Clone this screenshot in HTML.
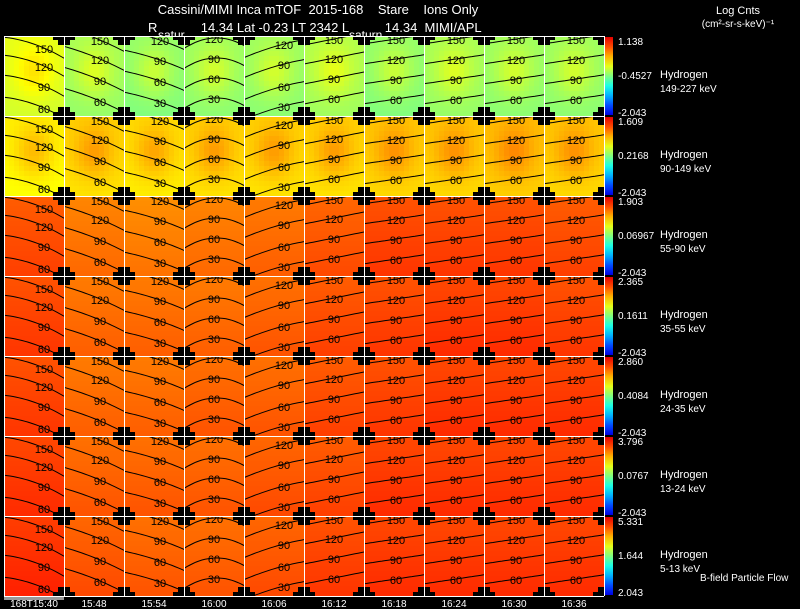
<!DOCTYPE html>
<html><head><meta charset="utf-8">
<style>
html,body{margin:0;padding:0;background:#000;}
svg{display:block;font-family:"Liberation Sans",sans-serif;}
</style></head>
<body>
<svg id="chart" width="800" height="609" viewBox="0 0 800 609" xmlns="http://www.w3.org/2000/svg">
<rect x="0" y="0" width="800" height="609" fill="#000"/>
<text x="318" y="14" fill="#fff" font-size="13" text-anchor="middle" xml:space="preserve">Cassini/MIMI Inca mTOF  2015-168    Stare    Ions Only</text>
<text x="148" y="32" fill="#fff" font-size="13" xml:space="preserve">R            14.34 Lat -0.23 LT 2342 L          14.34  MIMI/APL</text>
<text x="158" y="39" fill="#fff" font-size="12">satur</text>
<text x="349" y="39" fill="#fff" font-size="12">saturn</text>
<text x="738" y="14" fill="#fff" font-size="11" text-anchor="middle">Log Cnts</text>
<text x="738" y="27" fill="#fff" font-size="10" text-anchor="middle">(cm²-sr-s-keV)⁻¹</text>
<text x="700" y="581" fill="#fff" font-size="10">B-field Particle Flow</text>
<rect x="4" y="596" width="60" height="4" fill="#999"/>
<g id="panels"></g>
<g id="overlay"></g>
</svg>
<script>
// ---- data ----
const timeLabels = ["168T15:40","15:48","15:54","16:00","16:06","16:12","16:18","16:24","16:30","16:36"];
const species = ["Hydrogen","Hydrogen","Hydrogen","Hydrogen","Hydrogen","Hydrogen","Hydrogen"];
const energyLabels = ["149-227 keV","90-149 keV","55-90 keV","35-55 keV","24-35 keV","13-24 keV","5-13 keV"];
const cbarMax = ["1.138","1.609","1.903","2.365","2.860","3.796","5.331"];
const cbarMid = ["-0.4527","0.2168","0.06967","0.1611","0.4084","0.0767","1.644"];
const cbarMin = ["-2.043","-2.043","-2.043","-2.043","-2.043","-2.043","2.043"];
// normalized colour level (0..1 on jet scale) per panel, row = energy band, col = time
const row0Levels = [0.59,0.53,0.51,0.52,0.52,0.54,0.51,0.53,0.52,0.52];
const row1Levels = [0.63,0.66,0.65,0.66,0.66,0.66,0.67,0.67,0.68,0.67];
const row2Levels = [0.80,0.76,0.75,0.76,0.77,0.79,0.81,0.81,0.81,0.80];
const row3Levels = [0.81,0.77,0.77,0.77,0.78,0.80,0.81,0.82,0.82,0.81];
const row4Levels = [0.81,0.77,0.77,0.78,0.78,0.80,0.81,0.82,0.82,0.82];
const row5Levels = [0.82,0.78,0.78,0.78,0.79,0.80,0.82,0.82,0.82,0.82];
const row6Levels = [0.83,0.79,0.78,0.78,0.79,0.81,0.82,0.82,0.82,0.82];
const panelLevels = [row0Levels,row1Levels,row2Levels,row3Levels,row4Levels,row5Levels,row6Levels];
// pitch-angle contour labels per column
const contourLabels = [
 [150,120,90,60],[150,120,90,60],[120,90,60,30],[120,90,60,30],[120,90,60,30],
 [150,120,90,60],[150,120,90,60],[150,120,90,60],[150,120,90,60],[150,120,90,60]];

// ---- layout ----
const X0=4, PW=60, Y0=36, PH=80, CBX=605, CBW=8;
const NS="http://www.w3.org/2000/svg";
const panelsG=document.getElementById('panels');
const overlay=document.getElementById('overlay');
const xPanel=c=>X0+c*PW, yPanel=r=>Y0+r*PH;
function clamp(v){return Math.max(0,Math.min(1,v));}
function jet(v){
  const r=clamp(1.5-Math.abs(4*v-3)), g=clamp(1.5-Math.abs(4*v-2)), b=clamp(1.5-Math.abs(4*v-1));
  return `rgb(${Math.round(r*255)},${Math.round(g*255)},${Math.round(b*255)})`;
}
function mk(tag,attrs,parent){const e=document.createElementNS(NS,tag);for(const k in attrs)e.setAttribute(k,attrs[k]);parent.appendChild(e);return e;}
// contour geometry per column (style, not data)
const cSlope=[0.35,0.4,0.32,-0.05,-0.3,-0.2,-0.15,-0.15,-0.15,-0.15];
const cCurve=[0.004,0.002,0.002,0.01,0.002,0,0,0,0,0];
const cOff=[[12,30,50,72],[4,23,44,65],[4,24,45,66],[2,22,42,62],[8,28,50,70],[3,22,42,62],[3,23,43,63],[3,23,43,63],[3,23,43,63],[3,23,43,63]];
const cLabX=[40,36,36,30,40,30,32,32,32,32];

const defs=mk('defs',{},panelsG);
const CELL=5;
for(let r=0;r<7;r++){
  const bump = r<2 ? 0.06 : 0.0;
  for(let c=0;c<10;c++){
    const px=xPanel(c), py=yPanel(r), base=panelLevels[r][c];
    const g=mk('g',{},panelsG);
    
    
    for(let j=0;j<PH/CELL;j++){
      for(let i=0;i<PW/CELL;i++){
        const dx=(i+0.5)/(PW/CELL)-0.5, dy=(j+0.5)/(PH/CELL)-0.45;
        const v=base+bump*Math.exp(-(dx*dx+dy*dy)*10)+(r<2?-0.02:0.03)*(j/(PH/CELL)-0.5);
        const cell=mk('rect',{x:px+i*CELL,y:py+j*CELL,width:CELL,height:CELL,fill:jet(v)},g);
        
        
      }
    }
    const cp=mk('clipPath',{id:'cp'+r+'_'+c},defs);
    mk('rect',{x:px,y:py,width:PW,height:PH},cp);
    const cg=mk('g',{'clip-path':'url(#cp'+r+'_'+c+')'},g);
    for(let k=0;k<4;k++){
      let d='';
      for(let t=0;t<=PW;t+=3){
        const xx=t-PW/2;
        const yy=py+cOff[c][k]+cSlope[c]*(t-cLabX[c])+cCurve[c]*(xx*xx-(cLabX[c]-PW/2)*(cLabX[c]-PW/2));
        d+=(t?'L':'M')+(px+t)+','+yy.toFixed(1);
      }
      const ln=mk('path',{d:d,fill:'none',stroke:'#000','stroke-width':1},cg);
      
      
      const tl=mk('text',{x:px+cLabX[c],y:py+cOff[c][k]+5,'font-size':11,fill:'#000','text-anchor':'middle'},cg);
      tl.textContent=contourLabels[c][k];
      
      
    }
  }
  // colour bar
  const cy=yPanel(r)+1;
  const gid='cbg'+r;
  const lg=mk('linearGradient',{id:gid,x1:0,y1:1,x2:0,y2:0},defs);
  for(let s=0;s<=8;s++) mk('stop',{offset:s/8,'stop-color':jet(0.1+s*0.8/8)},lg);
  const cb=mk('rect',{x:CBX,y:cy,width:CBW,height:PH-2,fill:'url(#'+gid+')'},overlay);
  
  
  const tx=[[cbarMax[r],cy+8],[cbarMid[r],cy+42],[cbarMin[r],cy+79]];
  tx.forEach((a,ii)=>{
    const t=mk('text',{x:618,y:a[1],fill:'#fff','font-size':10},overlay);
    t.textContent=a[0];
    
    
  });
  const s1=mk('text',{x:660,y:cy+41,fill:'#fff','font-size':11},overlay);
  s1.textContent=species[r];
  
  
  const s2=mk('text',{x:660,y:cy+55,fill:'#fff','font-size':10},overlay);
  s2.textContent=energyLabels[r];
  
  
}
// black notch crosses at panel corners (columns 1..9)
for(let r=0;r<=7;r++){
  for(let c=1;c<=10;c++){
    const cx=xPanel(c), cy=yPanel(r);
    const g=mk('g',{fill:'#000'},overlay);
    
    
    const left = cx-11, w = (c===10?11:22);
    const top = Math.max(Y0,cy-9), h = Math.min(Y0+7*PH,cy+9)-top;
    mk('rect',{x:left,y:Math.max(Y0,cy-4),width:w,height:Math.min(Y0+7*PH,cy+4)-Math.max(Y0,cy-4)},g);
    mk('rect',{x:cx-6,y:top,width:(c===10?6:12),height:h},g);
  }
}
// white grid lines over notches
for(let c=0;c<=10;c++){mk('line',{x1:xPanel(c)+0.5,y1:Y0,x2:xPanel(c)+0.5,y2:Y0+7*PH,stroke:'#fff','stroke-width':1},overlay);}
for(let r=0;r<=7;r++){mk('line',{x1:X0,y1:yPanel(r)+0.5,x2:X0+10*PW,y2:yPanel(r)+0.5,stroke:'#fff','stroke-width':1},overlay);}
// time labels
timeLabels.forEach((lab,c)=>{
  const t=mk('text',{x:xPanel(c)+30,y:607,fill:'#fff','font-size':10,'text-anchor':'middle'},overlay);
  t.textContent=lab;
  
  
});
</script>
</body></html>
